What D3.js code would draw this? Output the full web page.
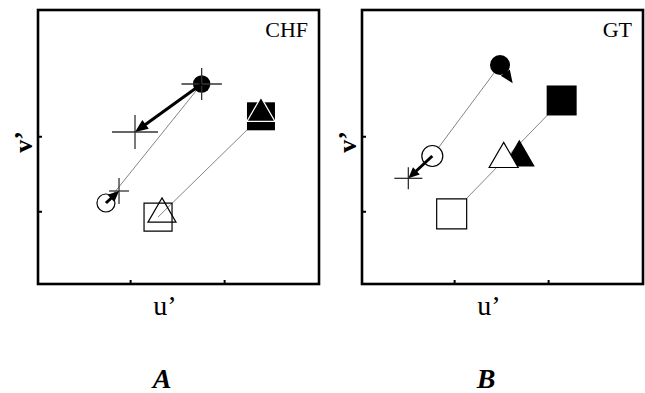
<!DOCTYPE html>
<html>
<head>
<meta charset="utf-8">
<script src="https://cdn.jsdelivr.net/npm/d3@7"></script>
<style>
  html, body { margin: 0; padding: 0; background: #fff; overflow: hidden; }
  svg { display: block; font-family: "Liberation Serif", "Times New Roman", serif; }
</style>
</head>
<body>
<div id="chart-area"></div>
<script>
// u'v' chromaticity shifts, two panels (CHF, GT), no numeric tick labels
var panelNames = ['CHF', 'GT'];
var panelLetters = ['A', 'B'];
var xTicks = [1, 2];
var yTicks = [1, 2];

// [u', v'] per panel
var circleOpen     = [[0.743, 1.110], [0.768, 1.737]];
var circleFilled   = [[1.761, 2.697], [1.488, 2.950]];
var squareOpen     = [[1.297, 0.923], [0.974, 0.966]];
var squareFilled   = [[2.392, 2.266], [2.144, 2.477]];
var triangleOpen   = [[1.339, 0.963], [1.527, 1.695]];
var triangleFilled = [[2.392, 2.306], [1.693, 1.715]];

// where the arrows from the circles end
var arrowOpenEnd   = [[0.882, 1.270], [0.513, 1.439]];
var arrowFilledEnd = [[1.052, 2.057], [1.623, 2.706]];

// error half-widths [du', dv'] (null = none drawn)
var errCircleFilled   = [[0.215, 0.213], null];
var errArrowOpenEnd   = [[0.106, 0.173], [0.149, 0.147]];
var errArrowFilledEnd = [[0.245, 0.227], null];

var outerWidth = 645, outerHeight = 393;
var innerWidth = 281, innerHeight = 274;
var panelLeft = [38, 362];
var panelTop = 10;

var svg = d3.select('#chart-area').append('svg')
            .attr('width', outerWidth)
            .attr('height', outerHeight);

var xScale = d3.scaleLinear().domain([0.02, 0.02 + innerWidth / 94]).range([0, innerWidth]);
var yScale = d3.scaleLinear().domain([0.03, 0.03 + innerHeight / 75]).range([innerHeight, 0]);

var markerSize = [
  {r: 8.7, ro: 9, sq: 28, tri: 28},
  {r: 10, ro: 10.5, sq: 30, tri: 29}
];
var openFill = ['none', '#fff'];
var filledTriStroke = ['#fff', '#000'];

function triArea(side) { return Math.sqrt(3) / 4 * side * side; }

function arrow(g, from, to, headLen, headW, width) {
  var x1 = xScale(from[0]), y1 = yScale(from[1]);
  var x2 = xScale(to[0]), y2 = yScale(to[1]);
  var dx = x2 - x1, dy = y2 - y1, len = Math.sqrt(dx * dx + dy * dy);
  var ux = dx / len, uy = dy / len;
  var bx = x2 - ux * headLen, by = y2 - uy * headLen;
  g.append('line')
   .attr('x1', x1).attr('y1', y1)
   .attr('x2', bx + ux * 1).attr('y2', by + uy * 1)
   .attr('stroke', '#000').attr('stroke-width', width);
  g.append('path')
   .attr('d', 'M' + x2 + ',' + y2 +
              'L' + (bx - uy * headW / 2) + ',' + (by + ux * headW / 2) +
              'L' + (bx + uy * headW / 2) + ',' + (by - ux * headW / 2) + 'Z')
   .attr('fill', '#000');
}

function cross(g, p, e) {
  if (!e) return;
  var cx = xScale(p[0]), cy = yScale(p[1]);
  g.append('line')
   .attr('x1', xScale(p[0] - e[0])).attr('x2', xScale(p[0] + e[0]))
   .attr('y1', cy).attr('y2', cy)
   .attr('stroke', '#333').attr('stroke-width', 1.3);
  g.append('line')
   .attr('x1', cx).attr('x2', cx)
   .attr('y1', yScale(p[1] - e[1])).attr('y2', yScale(p[1] + e[1]))
   .attr('stroke', '#333').attr('stroke-width', 1.3);
}

function tidyAxis(a) {
  a.select('.domain').remove();
  a.selectAll('text').remove();
  a.selectAll('line').attr('stroke-width', 2);
}

panelNames.forEach(function(name, i) {
  var g = svg.append('g')
             .attr('transform', 'translate(' + panelLeft[i] + ',' + panelTop + ')');
  var ms = markerSize[i];

  // axes: inward ticks only
  g.append('g')
   .attr('transform', 'translate(0,' + innerHeight + ')')
   .call(d3.axisBottom(xScale).tickValues(xTicks).tickSize(-4))
   .call(tidyAxis);
  g.append('g')
   .call(d3.axisLeft(yScale).tickValues(yTicks).tickSize(-4))
   .call(tidyAxis);

  // thin connecting lines
  [[circleFilled[i], circleOpen[i]], [squareFilled[i], squareOpen[i]]].forEach(function(pair) {
    g.append('line')
     .attr('x1', xScale(pair[0][0])).attr('y1', yScale(pair[0][1]))
     .attr('x2', xScale(pair[1][0])).attr('y2', yScale(pair[1][1]))
     .attr('stroke', '#777').attr('stroke-width', 0.9);
  });

  // squares
  g.append('path')
   .attr('d', d3.symbol(d3.symbolSquare, ms.sq * ms.sq)())
   .attr('transform', 'translate(' + xScale(squareOpen[i][0]) + ',' + yScale(squareOpen[i][1]) + ')')
   .attr('fill', openFill[i]).attr('stroke', '#000').attr('stroke-width', 1.2);
  g.append('path')
   .attr('d', d3.symbol(d3.symbolSquare, ms.sq * ms.sq)())
   .attr('transform', 'translate(' + xScale(squareFilled[i][0]) + ',' + yScale(squareFilled[i][1]) + ')')
   .attr('fill', '#000');

  // triangles
  g.append('path')
   .attr('d', d3.symbol(d3.symbolTriangle, triArea(ms.tri))())
   .attr('transform', 'translate(' + xScale(triangleFilled[i][0]) + ',' + yScale(triangleFilled[i][1]) + ')')
   .attr('fill', '#000').attr('stroke', filledTriStroke[i]).attr('stroke-width', 1.2);
  g.append('path')
   .attr('d', d3.symbol(d3.symbolTriangle, triArea(ms.tri))())
   .attr('transform', 'translate(' + xScale(triangleOpen[i][0]) + ',' + yScale(triangleOpen[i][1]) + ')')
   .attr('fill', openFill[i]).attr('stroke', '#000').attr('stroke-width', 1.2);

  // circles
  g.append('circle')
   .attr('cx', xScale(circleOpen[i][0])).attr('cy', yScale(circleOpen[i][1]))
   .attr('r', ms.ro)
   .attr('fill', openFill[i]).attr('stroke', '#000').attr('stroke-width', 1.2);
  g.append('circle')
   .attr('cx', xScale(circleFilled[i][0])).attr('cy', yScale(circleFilled[i][1]))
   .attr('r', ms.r)
   .attr('fill', '#000');

  // error crosses
  cross(g, circleFilled[i], errCircleFilled[i]);
  cross(g, arrowOpenEnd[i], errArrowOpenEnd[i]);
  cross(g, arrowFilledEnd[i], errArrowFilledEnd[i]);

  // shift arrows
  arrow(g, circleOpen[i], arrowOpenEnd[i], 11, 10, 3);
  arrow(g, circleFilled[i], arrowFilledEnd[i], 13, 11, 3);

  // frame
  g.append('rect')
   .attr('width', innerWidth).attr('height', innerHeight)
   .attr('fill', 'none').attr('stroke', '#000').attr('stroke-width', 2.6);

  // labels, placed on the svg itself
  var left = panelLeft[i];
  svg.append('text')
     .attr('x', left + innerWidth - 11).attr('y', panelTop + 27)
     .attr('text-anchor', 'end')
     .attr('font-size', '22px')
     .text(name);
  svg.append('text')
     .attr('transform', 'translate(' + (left - 6) + ',' + (panelTop + 132) + ') rotate(-90)')
     .attr('text-anchor', 'middle')
     .attr('font-size', '26px')
     .attr('font-weight', 'bold')
     .text('v\u2019');
  svg.append('text')
     .attr('x', left + 127).attr('y', panelTop + 305)
     .attr('text-anchor', 'middle')
     .attr('font-size', '28px')
     .text('u\u2019');
  svg.append('text')
     .attr('x', left + 124).attr('y', panelTop + 378)
     .attr('text-anchor', 'middle')
     .attr('font-size', '28px')
     .attr('font-weight', 'bold')
     .attr('font-style', 'italic')
     .text(panelLetters[i]);
});
</script>
</body>
</html>
